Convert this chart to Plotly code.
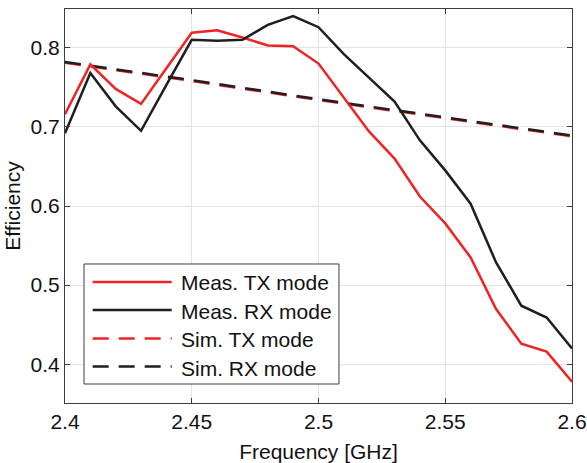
import plotly.graph_objects as go

# Frequency sweep (GHz)
freq = [2.40, 2.41, 2.42, 2.43, 2.44, 2.45, 2.46, 2.47, 2.48, 2.49, 2.50,
        2.51, 2.52, 2.53, 2.54, 2.55, 2.56, 2.57, 2.58, 2.59, 2.60]

# Measured efficiency
meas_tx = [0.716, 0.779, 0.748, 0.729, 0.774, 0.819, 0.822, 0.813, 0.803, 0.802, 0.780,
           0.737, 0.694, 0.660, 0.612, 0.578, 0.535, 0.470, 0.426, 0.416, 0.378]
meas_rx = [0.692, 0.768, 0.726, 0.695, 0.753, 0.810, 0.809, 0.810, 0.829, 0.840, 0.826,
           0.792, 0.762, 0.732, 0.683, 0.645, 0.603, 0.529, 0.474, 0.459, 0.420]

# Simulated efficiency
sim_freq = [2.40, 2.45, 2.50, 2.55, 2.60]
sim_tx = [0.781, 0.758, 0.734, 0.711, 0.688]
sim_rx = [0.782, 0.759, 0.735, 0.712, 0.689]

x_ticks = [2.4, 2.45, 2.5, 2.55, 2.6]
x_tick_labels = ["2.4", "2.45", "2.5", "2.55", "2.6"]
y_ticks = [0.4, 0.5, 0.6, 0.7, 0.8]
y_tick_labels = ["0.4", "0.5", "0.6", "0.7", "0.8"]

legend_names = ["Meas. TX mode", "Meas. RX mode", "Sim. TX mode", "Sim. RX mode"]

RED = "#ee2424"
BLACK = "#1f1f1f"
AXIS = "#3c3c3c"
GRID = "#e3e3e3"
FONT = "Liberation Sans, Arial, sans-serif"
FSIZE = 21
DASH = "16px,10px"

fig = go.Figure()
fig.add_trace(go.Scatter(x=sim_freq, y=sim_tx, mode="lines",
                         line=dict(color=RED, width=2.5, dash=DASH)))
fig.add_trace(go.Scatter(x=sim_freq, y=sim_rx, mode="lines",
                         line=dict(color=BLACK, width=2.5, dash=DASH)))
fig.add_trace(go.Scatter(x=freq, y=meas_tx, mode="lines",
                         line=dict(color=RED, width=2.5)))
fig.add_trace(go.Scatter(x=freq, y=meas_rx, mode="lines",
                         line=dict(color=BLACK, width=2.5)))

axis_common = dict(
    showline=True, linecolor=AXIS, linewidth=1, mirror="ticks",
    ticks="inside", ticklen=5, tickcolor=AXIS, tickwidth=1,
    showgrid=True, gridcolor=GRID, gridwidth=1, zeroline=False,
    automargin=False,
    tickfont=dict(family=FONT, size=FSIZE, color="#111"),
)

fig.update_xaxes(range=[2.4, 2.6], tickvals=x_ticks, ticktext=x_tick_labels,
                 title=dict(text="Frequency [GHz]", standoff=12,
                            font=dict(family=FONT, size=FSIZE, color="#111")),
                 **axis_common)
fig.update_yaxes(range=[0.351, 0.849], tickvals=y_ticks, ticktext=y_tick_labels,
                 title=dict(text="Efficiency", standoff=4,
                            font=dict(family=FONT, size=FSIZE, color="#111")),
                 **axis_common)

# Legend box drawn with shapes and annotations (long line samples)
shapes = [dict(type="rect", xref="paper", yref="paper",
               x0=0.0375, x1=0.5404, y0=0.0482, y1=0.3528,
               line=dict(color=AXIS, width=1), fillcolor="white", layer="above")]
row_y = [0.3071, 0.2360, 0.1637, 0.0926]
text_y = [0.3046, 0.2310, 0.1599, 0.0888]
styles = [(RED, "solid"), (BLACK, "solid"), (RED, DASH), (BLACK, DASH)]
annotations = []
for name, yy, ty, (col, dash) in zip(legend_names, row_y, text_y, styles):
    shapes.append(dict(type="line", xref="paper", yref="paper",
                       x0=0.0546, x1=0.2105, y0=yy, y1=yy, layer="above",
                       line=dict(color=col, width=2.5, dash=dash)))
    annotations.append(dict(text=name, xref="paper", yref="paper",
                            x=0.2249, y=ty, xanchor="left", yanchor="middle",
                            showarrow=False,
                            font=dict(family=FONT, size=FSIZE, color="#111")))

fig.update_layout(
    width=587, height=463,
    margin=dict(l=65, r=15, t=9, b=60),
    paper_bgcolor="white", plot_bgcolor="white",
    showlegend=False,
    shapes=shapes, annotations=annotations,
)

fig.write_html("out.html")
